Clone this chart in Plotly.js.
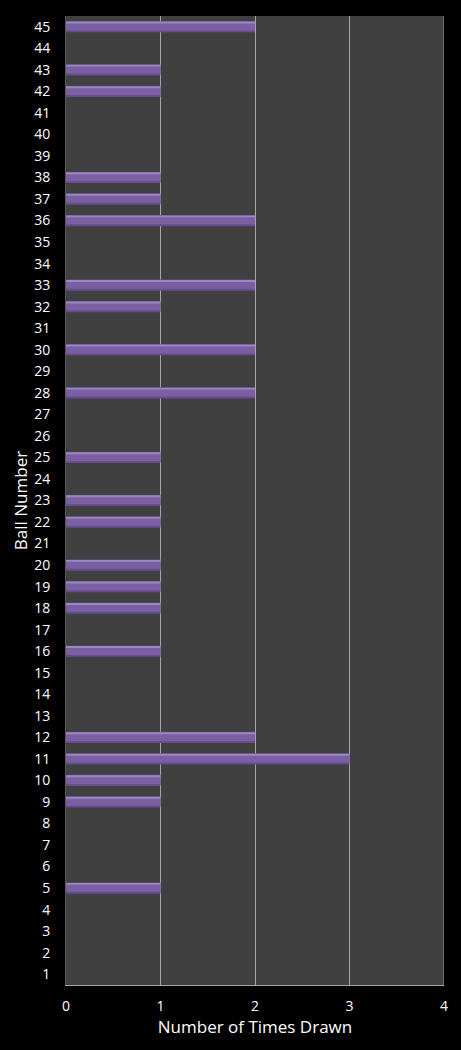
<!DOCTYPE html>
<html>
<head>
<meta charset="utf-8">
<script src="https://cdn.plot.ly/plotly-3.0.1.min.js"></script>
<style>
  html, body { margin: 0; padding: 0; background: #000; }
  #chart { width: 461px; height: 1050px; }
</style>
</head>
<body>
<div id="chart"></div>
<script>
// ball numbers 1..45 and how often each was drawn
const balls = []
for (let i = 1; i <= 45; i++) balls.push(i)

const timesDrawn = [
    0, 0, 0, 0, 1, 0, 0, 0, 1, 1,   // 1-10
    3, 2, 0, 0, 0, 1, 0, 1, 1, 1,   // 11-20
    0, 1, 1, 0, 1, 0, 0, 2, 0, 2,   // 21-30
    0, 1, 2, 0, 0, 2, 1, 1, 0, 0,   // 31-40
    0, 1, 1, 0, 2                   // 41-45
]

const xTicks = [0, 1, 2, 3, 4]

const font = "'Open Sans', 'DejaVu Sans', sans-serif"

// the bars get a bevelled look: darker body, main band, light top strip
function barLayer(color, offset, width){
    return {
        type: "bar",
        orientation: "h",
        x: timesDrawn,
        y: balls,
        offset: offset,
        width: width,
        marker: {color: color, line: {width: 0}},
        hoverinfo: "skip"
    }
}

const data = [
    barLayer("#654d8e", -0.26, 0.52),
    barLayer("#7a5fa3", -0.17, 0.35),
    barLayer("#9c88c0", 0.15, 0.09)
]

const layout = {
    width: 461,
    height: 1050,
    margin: {l: 66, r: 17, t: 16, b: 65},
    paper_bgcolor: "#000000",
    plot_bgcolor: "#404040",
    barmode: "overlay",
    showlegend: false,
    font: {family: font, color: "#ffffff", size: 14},
    xaxis: {
        range: [0, 4],
        tickvals: xTicks,
        showgrid: true,
        gridcolor: "#a6a6a6",
        gridwidth: 1,
        zeroline: false,
        showline: true,
        linecolor: "#a6a6a6",
        ticks: "outside",
        ticklen: 8,
        tickcolor: "rgba(0,0,0,0)",
        tickfont: {size: 14, color: "#ffffff"},
        title: {text: "Number of Times Drawn", font: {size: 17, color: "#ffffff"}, standoff: 6},
        fixedrange: true
    },
    yaxis: {
        range: [0.5, 45.5],
        tickvals: balls,
        showgrid: false,
        zeroline: false,
        showline: true,
        linecolor: "#555555",
        ticks: "outside",
        ticklen: 12,
        tickcolor: "rgba(0,0,0,0)",
        tickfont: {size: 14, color: "#ffffff"},
        title: {text: "Ball Number", font: {size: 17, color: "#ffffff"}, standoff: 2},
        fixedrange: true
    },
    shapes: [{
        type: "line",
        xref: "x", yref: "y domain",
        x0: xTicks[xTicks.length - 1], x1: xTicks[xTicks.length - 1],
        y0: 0, y1: 1,
        line: {color: "#a6a6a6", width: 1}
    }]
}

Plotly.newPlot("chart", data, layout, {displayModeBar: false, staticPlot: true})
</script>
</body>
</html>
